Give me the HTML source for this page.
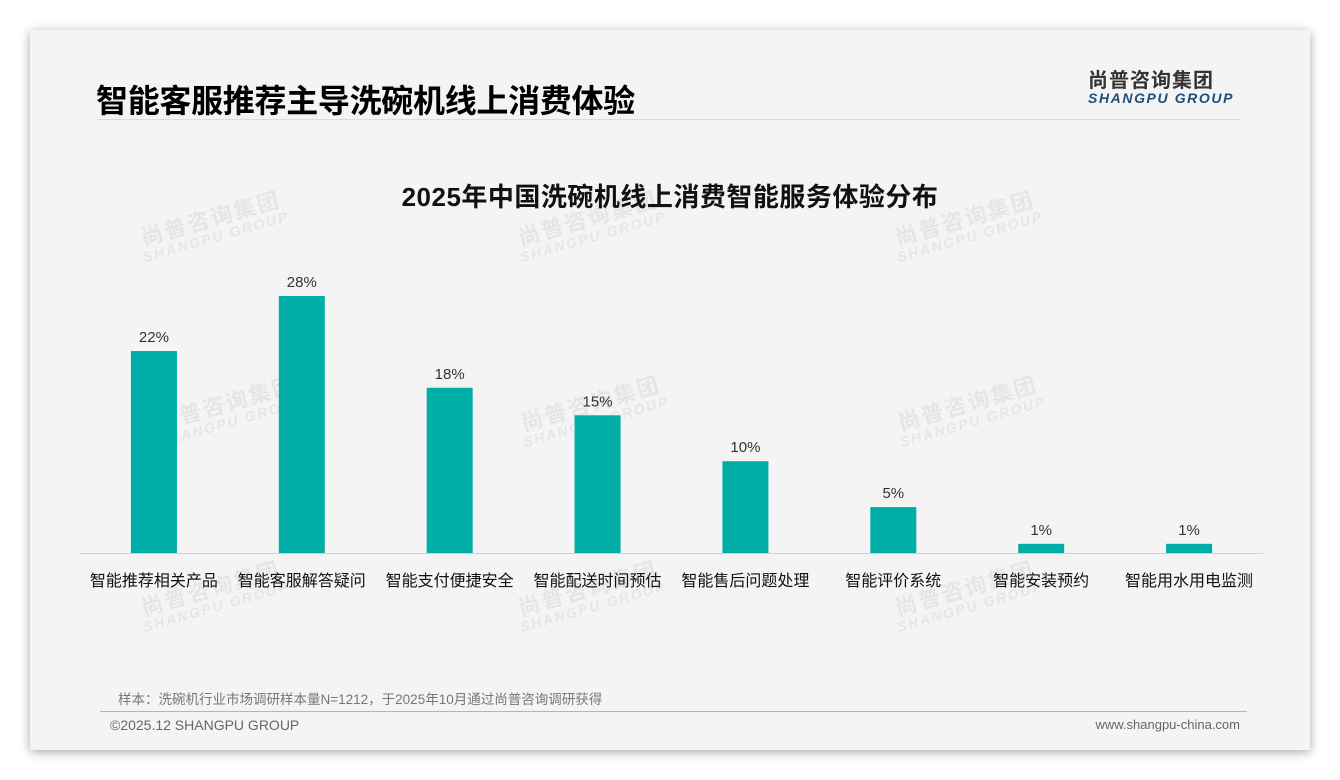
<!DOCTYPE html>
<html><head><meta charset="utf-8">
<style>
body{margin:0;width:1340px;height:780px;background:#fff;position:relative;overflow:hidden;font-family:"Liberation Sans","Noto Sans CJK SC",sans-serif}
#card{position:absolute;left:30px;top:30px;width:1280px;height:720px;background:#f4f4f4;box-shadow:0 2px 10px rgba(0,0,0,.35)}
.wm{position:absolute;transform:rotate(-16deg);color:rgba(0,0,0,.06);font-weight:bold;text-align:center;line-height:1;white-space:nowrap}
.wm .a{font-size:22px;letter-spacing:2px}.wm .b{font-size:14px;letter-spacing:2px;font-style:italic}
</style></head><body>
<div id="card"></div>
<div style="position:absolute;left:96px;top:76px;font-size:32px;font-weight:bold;color:#000;letter-spacing:-0.3px">智能客服推荐主导洗碗机线上消费体验</div>
<div style="position:absolute;left:97px;top:119px;width:1143px;height:1px;background:#dcdcdc"></div>
<div style="position:absolute;left:1088px;top:64px;text-align:left">
 <div style="font-size:20px;font-weight:bold;color:#333;letter-spacing:1px">尚普咨询集团</div>
 <div style="font-size:14px;font-weight:bold;font-style:italic;color:#1f4e79;letter-spacing:1.6px;margin-top:-3px">SHANGPU GROUP</div>
</div>
<div id="wms"></div>
<div style="position:absolute;left:0;width:1340px;top:177px;text-align:center;font-size:26px;font-weight:bold;color:#111;letter-spacing:0.5px">2025年中国洗碗机线上消费智能服务体验分布</div>
<svg id="chart" width="1340" height="780" style="position:absolute;left:0;top:0"></svg>
<div style="position:absolute;left:118px;top:688px;font-size:13.5px;color:#777">样本：洗碗机行业市场调研样本量N=1212，于2025年10月通过尚普咨询调研获得</div>
<div style="position:absolute;left:100px;top:711px;width:1147px;height:1px;background:#aab8c6"></div>
<div style="position:absolute;left:110px;top:717px;font-size:14px;color:#666">©2025.12 SHANGPU GROUP</div>
<div style="position:absolute;right:100px;top:717px;font-size:13px;color:#666">www.shangpu-china.com</div>
<script>
const categories=["智能推荐相关产品","智能客服解答疑问","智能支付便捷安全","智能配送时间预估","智能售后问题处理","智能评价系统","智能安装预约","智能用水用电监测"];
const values=[22,28,18,15,10,5,1,1];
const valueLabels=["22%","28%","18%","15%","10%","5%","1%","1%"];
const NS="http://www.w3.org/2000/svg";
const svg=document.getElementById('chart');
const x0=80,x1=1263,baseY=553,pxPer=9.18,bw=46;
const step=(x1-x0)/categories.length;
function xc(i){return x0+step*(i+0.5);}
function yv(v){return baseY-v*pxPer;}
const ax=document.createElementNS(NS,'line');


ax.setAttribute('x1',x0);ax.setAttribute('x2',x1);ax.setAttribute('y1',baseY+0.5);ax.setAttribute('y2',baseY+0.5);
ax.setAttribute('stroke','#d0d0d0');svg.appendChild(ax);
values.forEach((v,i)=>{
 const r=document.createElementNS(NS,'rect');
 
 
 r.setAttribute('x',xc(i)-bw/2);r.setAttribute('y',yv(v));r.setAttribute('width',bw);r.setAttribute('height',baseY-yv(v));
 r.setAttribute('fill','#00aea7');svg.appendChild(r);
 const t=document.createElementNS(NS,'text');
 
 
 t.setAttribute('x',xc(i));t.setAttribute('y',yv(v)-9);t.setAttribute('text-anchor','middle');
 t.setAttribute('font-size','15');t.setAttribute('fill','#333');t.textContent=valueLabels[i];svg.appendChild(t);
 const c=document.createElementNS(NS,'text');
 
 
 c.setAttribute('x',xc(i));c.setAttribute('y',586);c.setAttribute('text-anchor','middle');
 c.setAttribute('font-size','16');c.setAttribute('fill','#111');c.setAttribute('font-family','"Liberation Sans","Noto Sans CJK SC",sans-serif');
 c.textContent=categories[i];svg.appendChild(c);
});
const wmPos=[[213,230],[590,230],[967,230],[228,415],[593,415],[970,415],[213,600],[590,600],[967,600]];
const wc=document.getElementById('wms');
wmPos.forEach(p=>{
 const d=document.createElement('div');
 
 
 d.className='wm';d.style.left=(p[0]-90)+'px';d.style.top=(p[1]-22)+'px';d.style.width='180px';
 d.innerHTML='<div class="a">尚普咨询集团</div><div class="b">SHANGPU GROUP</div>';
 wc.appendChild(d);
});
</script>
</body></html>
